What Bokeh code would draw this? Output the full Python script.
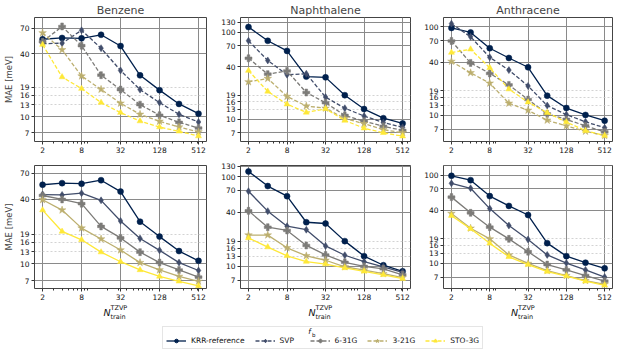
from bokeh.plotting import figure
from bokeh.layouts import column, row
from bokeh.models import (FixedTicker, NumeralTickFormatter, Range1d, Legend,
                          LegendItem, Label)
from bokeh.embed import file_html
from bokeh.resources import INLINE

FONT = "DejaVu Sans"

N_TRAIN = [2, 4, 8, 16, 32, 64, 128, 256, 512]
METHODS = ["KRR-reference", "SVP", "6-31G", "3-21G", "STO-3G"]
COLORS = ["#00204d", "#414d6b", "#7c7b78", "#bcaf6f", "#fee838"]
MARKERS = ["circle", "diamond", "plus", "star", "triangle"]
SIZES = [6, 7, 7, 8, 6]

MOLECULES = ["Benzene", "Naphthalene", "Anthracene"]

# ---- top row (dashed) ----
benzene_top_krr = [54.9, 56.5, 56.0, 60.6, 47.3, 24.8, 17.9, 13.2, 10.65]
benzene_top_svp = [49.8, 50.4, 66.9, 45.1, 27.6, 18.1, 13.6, 10.5, 8.87]
benzene_top_631g = [52.0, 72.8, 47.7, 24.9, 18.1, 13.0, 10.3, 8.8, 7.76]
benzene_top_321g = [63.2, 43.5, 24.4, 18.2, 13.4, 10.5, 9.0, 7.93, 7.13]
benzene_top_sto3g = [48.8, 23.9, 18.5, 13.6, 10.9, 9.05, 7.93, 7.22, 6.5]

naph_top_krr = [114.6, 79.7, 61.0, 30.9, 30.3, 18.9, 13.1, 10.3, 8.97]
naph_top_svp = [79.7, 47.4, 32.5, 33.3, 18.0, 13.4, 10.9, 9.2, 8.1]
naph_top_631g = [50.2, 33.0, 35.9, 20.3, 15.5, 11.1, 9.5, 8.3, 7.45]
naph_top_321g = [26.9, 29.4, 18.3, 14.2, 13.4, 10.2, 8.9, 7.6, 7.0]
naph_top_sto3g = [36.2, 20.9, 14.9, 12.0, 13.2, 9.7, 7.9, 7.0, 6.4]

anth_top_krr = [97.5, 86.7, 57.5, 44.6, 35.0, 16.7, 12.1, 10.1, 8.7]
anth_top_svp = [109.0, 77.4, 45.3, 32.5, 21.5, 12.9, 10.2, 8.45, 7.24]
anth_top_631g = [69.4, 39.2, 29.8, 22.1, 15.1, 10.4, 9.0, 7.6, 6.5]
anth_top_321g = [40.8, 30.3, 23.1, 13.7, 11.4, 8.8, 7.6, 6.6, 5.9]
anth_top_sto3g = [51.4, 56.0, 34.5, 19.8, 14.1, 10.7, 8.4, 6.7, 5.9]

# ---- bottom row (solid) ----
benzene_bot_krr = [54.8, 56.7, 56.0, 60.4, 47.3, 24.8, 18.0, 13.2, 10.7]
benzene_bot_svp = [44.4, 44.0, 45.7, 39.2, 25.2, 17.3, 13.4, 10.3, 8.7]
benzene_bot_631g = [43.5, 40.0, 36.5, 22.4, 17.5, 12.9, 10.3, 8.8, 7.55]
benzene_bot_321g = [39.7, 31.8, 21.6, 17.1, 13.5, 10.3, 8.8, 7.66, 6.9]
benzene_bot_sto3g = [31.8, 20.1, 16.8, 12.9, 10.5, 8.8, 7.66, 6.9, 6.25]

naph_bot_krr = [114.0, 78.4, 60.5, 31.0, 30.0, 19.1, 13.0, 10.3, 8.8]
naph_bot_svp = [68.6, 41.2, 28.0, 25.6, 16.9, 13.3, 11.3, 9.9, 8.6]
naph_bot_631g = [41.5, 27.3, 25.1, 17.1, 13.4, 11.1, 10.0, 9.4, 8.05]
naph_bot_321g = [22.3, 22.3, 16.1, 13.1, 11.7, 9.9, 9.1, 8.3, 7.5]
naph_bot_sto3g = [20.7, 16.4, 13.1, 11.3, 10.6, 9.6, 8.8, 8.05, 7.3]

anth_bot_krr = [98.5, 88.0, 58.0, 44.9, 35.4, 17.0, 12.1, 10.2, 8.8]
anth_bot_svp = [80.9, 71.2, 41.9, 26.9, 18.7, 12.5, 10.1, 8.45, 7.0]
anth_bot_631g = [56.5, 37.5, 25.8, 19.0, 13.6, 9.7, 8.45, 7.3, 6.3]
anth_bot_321g = [36.9, 25.1, 19.0, 12.5, 10.0, 8.3, 7.3, 6.4, 5.8]
anth_bot_sto3g = [34.8, 24.7, 16.9, 11.9, 9.7, 8.1, 7.2, 6.3, 5.65]

TOP = [
    [benzene_top_krr, benzene_top_svp, benzene_top_631g, benzene_top_321g, benzene_top_sto3g],
    [naph_top_krr, naph_top_svp, naph_top_631g, naph_top_321g, naph_top_sto3g],
    [anth_top_krr, anth_top_svp, anth_top_631g, anth_top_321g, anth_top_sto3g],
]
BOT = [
    [benzene_bot_krr, benzene_bot_svp, benzene_bot_631g, benzene_bot_321g, benzene_bot_sto3g],
    [naph_bot_krr, naph_bot_svp, naph_bot_631g, naph_bot_321g, naph_bot_sto3g],
    [anth_bot_krr, anth_bot_svp, anth_bot_631g, anth_bot_321g, anth_bot_sto3g],
]

TOP_YLIM = [(5.77, 88.7), (5.56, 147.5), (5.06, 128.0)]
BOT_YLIM = [(5.91, 82.8), (5.67, 132.8), (5.2, 129.0)]
X_LIM = (1.5, 680)

X_TICKS = [2, 8, 32, 128, 512]
X_MINOR = [3, 4, 5, 6, 7, 9, 10, 20, 30, 40, 50, 60, 70, 80, 90, 100,
           200, 300, 400, 500, 600]
Y_TICKS = [7, 10, 13, 16, 19, 40, 70, 100, 130]
Y_GRID_MAJOR = [7, 10, 40, 70, 100, 130]
Y_GRID_MINOR = [13, 16, 19]

COL_FRAME_W = [172, 170, 169]
COL_LEFT = [28, 26, 26]
COL_RIGHT = [8, 7, 1]


def make_panel(col, series, ylim, top):
    p = figure(
        x_axis_type="log", y_axis_type="log",
        x_range=Range1d(*X_LIM), y_range=Range1d(*ylim),
        frame_width=COL_FRAME_W[col], frame_height=124 if top else 123,
        min_border_left=COL_LEFT[col], min_border_right=COL_RIGHT[col],
        min_border_top=15 if top else 6, min_border_bottom=18 if top else 14,
        output_backend="svg", toolbar_location=None,
        title=MOLECULES[col] if top else None,
    )
    if top:
        p.title.text_font = FONT
        p.title.text_font_size = "11px"
        p.title.text_font_style = "normal"
        p.title.align = "center"
        p.title.standoff = 2
    p.background_fill_color = "white"
    p.border_fill_color = "white"
    p.outline_line_color = "#444444"
    p.outline_line_width = 1

    # axes
    p.xaxis.ticker = FixedTicker(ticks=X_TICKS, minor_ticks=X_MINOR)
    p.yaxis.ticker = FixedTicker(ticks=Y_TICKS, minor_ticks=[])
    p.xaxis.formatter = NumeralTickFormatter(format="0")
    p.yaxis.formatter = NumeralTickFormatter(format="0")
    for ax in (p.xaxis[0], p.yaxis[0]):
        ax.axis_line_color = None
        ax.major_tick_line_color = "#333333"
        ax.minor_tick_line_color = "#333333"
        ax.major_tick_in = 0
        ax.major_tick_out = 3
        ax.minor_tick_in = 0
        ax.minor_tick_out = 2
        ax.major_label_text_font = FONT
        ax.major_label_text_font_size = "7.5px"
        ax.major_label_text_color = "#111111"
        ax.major_label_standoff = 2
    if col == 0:
        p.yaxis.axis_label = "MAE [meV]"
        p.yaxis.axis_label_text_font = FONT
        p.yaxis.axis_label_text_font_size = "8.5px"
        p.yaxis.axis_label_text_font_style = "normal"
        p.yaxis.axis_label_standoff = 3

    # grid
    p.xgrid.ticker = FixedTicker(ticks=X_TICKS, minor_ticks=[])
    p.xgrid.grid_line_color = "#8a8a8a"
    p.xgrid.grid_line_width = 1
    p.ygrid.ticker = FixedTicker(ticks=Y_GRID_MAJOR, minor_ticks=Y_GRID_MINOR)
    p.ygrid.grid_line_color = "#8a8a8a"
    p.ygrid.grid_line_width = 1
    p.ygrid.minor_grid_line_color = "#c8c8c8"
    p.ygrid.minor_grid_line_dash = "2 2"
    p.ygrid.minor_grid_line_width = 0.8

    for i, vals in enumerate(series):
        dash = "solid" if (i == 0 or not top) else "4 2"
        p.line(N_TRAIN, vals, line_color=COLORS[i], line_width=1.3, line_dash=dash)
        p.scatter(N_TRAIN, vals, marker=MARKERS[i], size=SIZES[i],
                  fill_color=COLORS[i], line_color=COLORS[i], line_width=0.5)
    return p


top_row = [make_panel(c, TOP[c], TOP_YLIM[c], True) for c in range(3)]
bot_row = [make_panel(c, BOT[c], BOT_YLIM[c], False) for c in range(3)]

# ---- x labels + legend strip ----
LEG_H = 48
leg = figure(width=607, height=LEG_H, output_backend="svg", toolbar_location=None,
             min_border=0, x_axis_type="log", y_axis_type="log")
leg.axis.visible = False
leg.grid.visible = False
leg.outline_line_color = None

# x axis labels, centred under each bottom panel
x0 = 0
for c in range(3):
    cx = x0 + COL_LEFT[c] + COL_FRAME_W[c] / 2
    x0 += COL_LEFT[c] + COL_FRAME_W[c] + COL_RIGHT[c]
    leg.add_layout(Label(x=cx - 4, y=LEG_H - 10, x_units="screen", y_units="screen",
                         text="N", text_font=FONT, text_font_size="9.5px",
                         text_font_style="italic", text_align="right",
                         text_baseline="middle", text_color="#111111"))
    leg.add_layout(Label(x=cx - 4, y=LEG_H - 5, x_units="screen", y_units="screen",
                         text="TZVP", text_font=FONT, text_font_size="6.5px",
                         text_align="left", text_baseline="middle",
                         text_color="#111111"))
    leg.add_layout(Label(x=cx - 4, y=LEG_H - 14, x_units="screen", y_units="screen",
                         text="train", text_font=FONT, text_font_size="6.5px",
                         text_align="left", text_baseline="middle",
                         text_color="#111111"))

# legend title f_b (drawn under a transparent legend box)
leg.add_layout(Label(x=309, y=19, x_units="screen", y_units="screen", text="f",
                     text_font=FONT, text_font_size="7.5px", text_font_style="italic",
                     text_align="center", text_baseline="middle", text_color="#111111"))
leg.add_layout(Label(x=311.5, y=16, x_units="screen", y_units="screen", text="b",
                     text_font=FONT, text_font_size="5.5px",
                     text_align="left", text_baseline="middle", text_color="#111111"))

items = []
for i, name in enumerate(METHODS):
    dash = "solid" if i == 0 else "4 2"
    lr = leg.line(N_TRAIN, BOT[0][i], line_color=COLORS[i], line_width=1.3,
                  line_dash=dash, visible=False)
    sr = leg.scatter(N_TRAIN, BOT[0][i], marker=MARKERS[i], size=SIZES[i] - 1,
                     fill_color=COLORS[i], line_color=COLORS[i], visible=False)
    items.append(LegendItem(label=name, renderers=[lr, sr]))
legend = Legend(items=items, orientation="horizontal", location=(162, 1),
                title=" ", title_text_font_size="6px", title_standoff=0,
                label_text_font=FONT, label_text_font_size="7.5px",
                label_text_color="#111111",
                glyph_width=20, glyph_height=9, label_standoff=5, spacing=10,
                padding=3, margin=0, border_line_color="#cccccc",
                border_line_width=1, background_fill_alpha=0,
                label_height=9)
leg.add_layout(legend, "center")

layout = column(row(*top_row, spacing=0), row(*bot_row, spacing=0), leg, spacing=0)

open("out.html", "w").write(file_html(layout, INLINE))
